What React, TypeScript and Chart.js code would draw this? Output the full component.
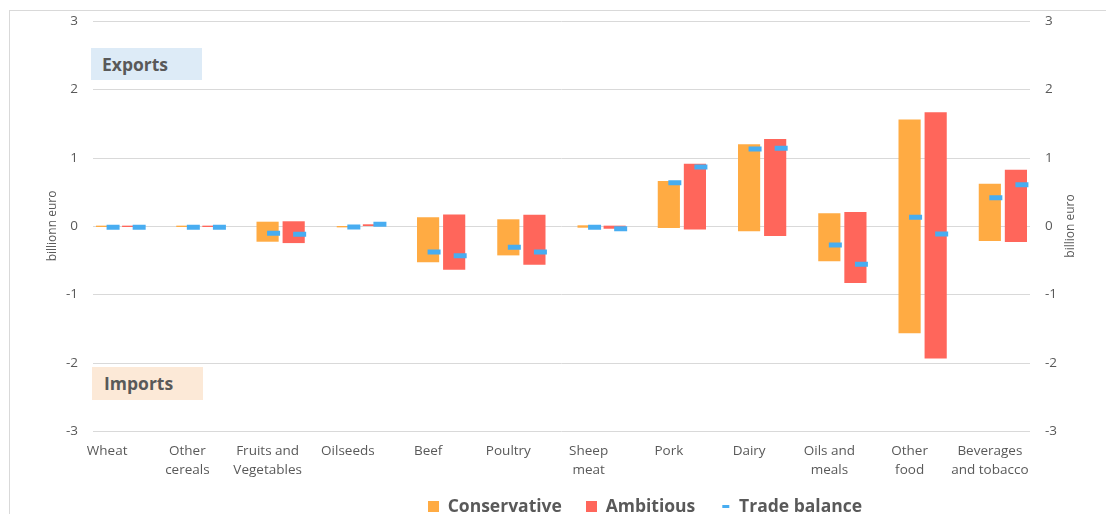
import React, { useEffect, useRef } from "react";
import { Chart, registerables } from "chart.js";

Chart.register(...registerables);

const categories: string[][] = [
  ["Wheat"],
  ["Other", "cereals"],
  ["Fruits and", "Vegetables"],
  ["Oilseeds"],
  ["Beef"],
  ["Poultry"],
  ["Sheep", "meat"],
  ["Pork"],
  ["Dairy"],
  ["Oils and", "meals"],
  ["Other", "food"],
  ["Beverages", "and tobacco"],
];

const conservativeExports = [0.005, 0.005, 0.063, 0, 0.127, 0.098, 0.01, 0.66, 1.196, 0.186, 1.56, 0.62];
const conservativeImports = [-0.015, -0.015, -0.23, -0.02, -0.53, -0.43, -0.025, -0.03, -0.078, -0.517, -1.57, -0.22];
const ambitiousExports = [0.005, 0.005, 0.069, 0.025, 0.17, 0.165, 0.005, 0.91, 1.274, 0.205, 1.665, 0.825];
const ambitiousImports = [-0.015, -0.015, -0.25, 0, -0.64, -0.567, -0.04, -0.05, -0.146, -0.835, -1.94, -0.234];
const conservativeBalance = [-0.02, -0.02, -0.107, -0.015, -0.38, -0.31, -0.02, 0.634, 1.127, -0.278, 0.127, 0.415];
const ambitiousBalance = [-0.02, -0.02, -0.12, 0.025, -0.435, -0.38, -0.04, 0.864, 1.137, -0.56, -0.117, 0.605];

const legendNames = ["Conservative", "Ambitious", "Trade balance"];
const yTicksMin = -3;
const yTicksMax = 3;

const ORANGE = "#FFAB43";
const RED = "#FF665B";
const BLUE = "#48ADF1";
const TEXT = "#595959";
const GRID = "#D9D9D9";
const FONT = "'Open Sans', sans-serif";

export default function App() {
  const ref = useRef<HTMLCanvasElement>(null);

  useEffect(() => {
    const canvas = ref.current!;
    const icon = (w: number, h: number, color: string, x0 = 0, dw = w) => {
      const c = document.createElement("canvas");
      c.width = w;
      c.height = h;
      const g = c.getContext("2d")!;
      g.fillStyle = color;
      g.fillRect(x0, 0, dw, h);
      return c;
    };
    const legendIcons = [icon(11, 11, ORANGE), icon(11, 11, RED), icon(11, 3, BLUE, 3, 7)];
    const legendColors = [ORANGE, RED, BLUE];

    const custom = {
      id: "custom",
      afterLayout(chart: any) {
        const lg = chart.legend;
        if (lg) {
          lg.left += 92;
          lg.right += 92;
          lg.top = chart.height - 40;
          lg.bottom = chart.height;
          lg.height = 40;
        }
      },
      afterDatasetsUpdate(chart: any) {
        [
          [2, 0],
          [3, 1],
        ].forEach(([m, b]) => {
          const pm = chart.getDatasetMeta(m);
          const bm = chart.getDatasetMeta(b);
          pm.data.forEach((p: any, i: number) => {
            if (bm.data[i]) p.x = bm.data[i].x + 6;
          });
        });
      },
      beforeDatasetsDraw(chart: any) {
        const { ctx, chartArea } = chart;
        const ys = chart.scales.y;
        ctx.save();
        ctx.strokeStyle = GRID;
        ctx.lineWidth = 1;
        ys.ticks.forEach((t: any) => {
          const y = Math.round(ys.getPixelForValue(t.value)) + 0.5;
          ctx.beginPath();
          ctx.moveTo(chartArea.left + 13, y);
          ctx.lineTo(chartArea.right - 13, y);
          ctx.stroke();
        });
        ctx.restore();
      },
      afterDraw(chart: any) {
        const { ctx, chartArea } = chart;
        ctx.save();
        ctx.translate(chartArea.right + 28, (chartArea.top + chartArea.bottom) / 2);
        ctx.rotate(-Math.PI / 2);
        ctx.font = `12px ${FONT}`;
        ctx.fillStyle = TEXT;
        ctx.textAlign = "center";
        ctx.textBaseline = "middle";
        ctx.fillText("billion euro", 0, 0);
        ctx.restore();
      },
    };

    const chart = new Chart(canvas, {
      type: "bar",
      data: {
        labels: categories,
        datasets: [
          {
            label: legendNames[0],
            data: categories.map((_, i) => [conservativeImports[i], conservativeExports[i]]),
            backgroundColor: ORANGE,
            borderWidth: 0,
            categoryPercentage: 0.65,
            barPercentage: 0.85,
          } as any,
          {
            label: legendNames[1],
            data: categories.map((_, i) => [ambitiousImports[i], ambitiousExports[i]]),
            backgroundColor: RED,
            borderWidth: 0,
            categoryPercentage: 0.65,
            barPercentage: 0.85,
          } as any,
          {
            type: "line",
            label: legendNames[2],
            data: conservativeBalance,
            showLine: false,
            pointStyle: "line",
            pointRadius: 6.5,
            pointBorderWidth: 5,
            pointBorderColor: BLUE,
            pointBackgroundColor: BLUE,
            order: -1,
          } as any,
          {
            type: "line",
            label: legendNames[2],
            data: ambitiousBalance,
            showLine: false,
            pointStyle: "line",
            pointRadius: 6.5,
            pointBorderWidth: 5,
            pointBorderColor: BLUE,
            pointBackgroundColor: BLUE,
            order: -1,
          } as any,
        ],
      },
      options: {
        responsive: false,
        maintainAspectRatio: false,
        animation: false,
        layout: { padding: { top: 21, left: 0, right: 0, bottom: 0 } },
        plugins: {
          tooltip: { enabled: false },
          legend: {
            position: "bottom",
            maxHeight: 22,
            labels: {
              usePointStyle: true,
              boxWidth: 11,
              boxHeight: 11,
              padding: 24,
              color: TEXT,
              font: { family: FONT, size: 17.5, weight: "bold" },
              generateLabels: () =>
                legendNames.map((t, i) => ({
                  text: t,
                  pointStyle: legendIcons[i] as any,
                  fillStyle: legendColors[i],
                  strokeStyle: legendColors[i],
                  lineWidth: 0,
                  hidden: false,
                  datasetIndex: i,
                  fontColor: TEXT,
                })),
            },
          },
        },
        scales: {
          x: {
            type: "category",
            offset: true,
            grid: { display: false, drawTicks: false },
            border: { display: false },
            ticks: {
              color: TEXT,
              font: { family: FONT, size: 13.5, lineHeight: 1.4 },
              padding: 11,
              labelOffset: -13,
              maxRotation: 0,
              autoSkip: false,
            },
            afterFit: (s: any) => {
              s.height = 61;
            },
          },
          y: {
            type: "linear",
            position: "left",
            min: yTicksMin,
            max: yTicksMax,
            stacked: false,
            grid: { display: false, drawTicks: false },
            border: { display: false },
            ticks: {
              stepSize: 1,
              color: TEXT,
              font: { family: FONT, size: 13.5 },
              padding: 2,
            },
            title: {
              display: true,
              text: "billionn euro",
              color: TEXT,
              font: { family: FONT, size: 12 },
              padding: { top: 45, bottom: 0 },
            },
            afterFit: (s: any) => {
              s.width = 80;
            },
          },
          y2: {
            type: "linear",
            position: "right",
            min: yTicksMin,
            max: yTicksMax,
            grid: { display: false, drawTicks: false },
            border: { display: false },
            ticks: {
              stepSize: 1,
              color: TEXT,
              font: { family: FONT, size: 13.5 },
              padding: 2,
            },
            afterFit: (s: any) => {
              s.width = 63;
            },
          },
        },
      },
      plugins: [custom],
    } as any);
    return () => chart.destroy();
  }, []);

  const boxText: React.CSSProperties = {
    position: "absolute",
    boxSizing: "border-box",
    width: 111,
    height: 33,
    lineHeight: "33px",
    fontFamily: FONT,
    fontWeight: "bold",
    fontSize: 17.5,
    color: TEXT,
  };

  return (
    <div style={{ position: "fixed", left: 0, top: 0, width: 1106, height: 514, background: "#fff", overflow: "hidden" }}>
      <div
        style={{
          position: "absolute",
          left: 9,
          top: 10,
          width: 1200,
          height: 600,
          border: `1px solid ${GRID}`,
        }}
      />
      <canvas ref={ref} width={1106} height={514} style={{ position: "absolute", left: 0, top: 0 }} />
      <div style={{ ...boxText, left: 91, top: 48, height: 32, lineHeight: "32px", paddingLeft: 11, background: "#DDEBF7" }}>Exports</div>
      <div style={{ ...boxText, left: 92, top: 367, paddingLeft: 12, background: "#FCE9D7" }}>Imports</div>
    </div>
  );
}
